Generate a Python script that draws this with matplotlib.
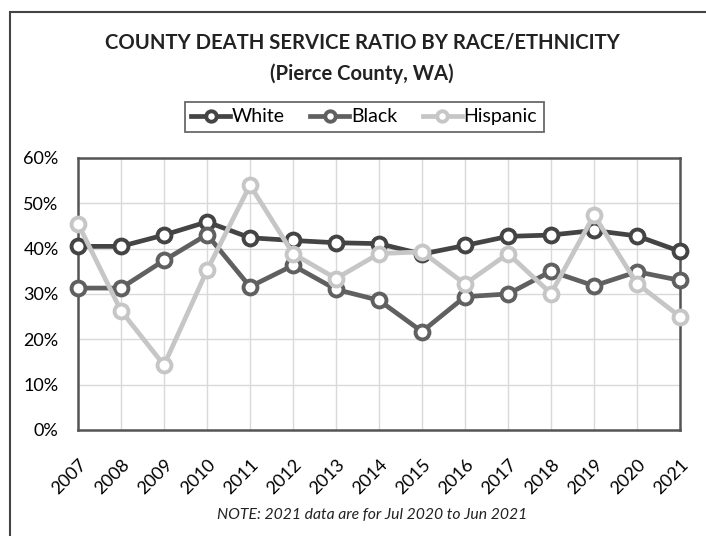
import matplotlib
matplotlib.use("Agg")
import matplotlib.pyplot as plt
from matplotlib.patches import Rectangle

plt.rcParams['font.family'] = ['Lato', 'DejaVu Sans']

years = list(range(2007, 2022))
white = [40.5, 40.5, 43.0, 45.9, 42.4, 41.8, 41.3, 41.1, 38.8, 40.7, 42.7, 43.0, 44.0, 42.8, 39.4]
black = [31.3, 31.3, 37.4, 43.1, 31.6, 36.3, 31.0, 28.6, 21.7, 29.4, 30.0, 35.0, 31.8, 34.9, 33.0]
hispanic = [45.5, 26.3, 14.3, 35.2, 54.0, 38.9, 33.4, 38.9, 39.3, 32.2, 38.9, 30.1, 47.4, 32.3, 25.0]
y_ticks = [0, 10, 20, 30, 40, 50, 60]

fig = plt.figure(figsize=(7.06, 5.36), dpi=100)

# outer chart border
fig.patches.append(Rectangle((0.014, -0.02), 1.0, 0.9976, transform=fig.transFigure,
                             fill=False, edgecolor='#444444', lw=1.5))

ax = fig.add_axes([0.1105, 0.1978, 0.8527, 0.5075])

styles = [
    ('White', white, '#444444'),
    ('Black', black, '#606060'),
    ('Hispanic', hispanic, '#c6c6c6'),
]
handles = []
for name, vals, col in styles:
    h, = ax.plot(years, vals, color=col, lw=3.4, marker='o', ms=10,
                 mfc='white', mec=col, mew=2.8, label=name, clip_on=False, zorder=3)
    handles.append(h)

ax.set_xlim(2007, 2021)
ax.set_ylim(0, 60)
ax.set_xticks(years)
ax.set_xticklabels([str(y) for y in years], rotation=45, ha='right',
                   rotation_mode='anchor', fontsize=13)
ax.set_yticks(y_ticks)
ax.set_yticklabels([f'{t}%' for t in y_ticks], fontsize=13)
ax.tick_params(axis='x', length=0, pad=19)
ax.tick_params(axis='y', length=0, pad=14)
ax.grid(True, color='#d9d9d9', lw=1)
ax.set_axisbelow(True)
for s in ax.spines.values():
    s.set_color('#555555')
    s.set_linewidth(1.8)

fig.text(0.513, 0.92, 'COUNTY DEATH SERVICE RATIO BY RACE/ETHNICITY',
         ha='center', va='center', fontsize=14.6, fontweight='bold', color='#222222')
fig.text(0.513, 0.863, '(Pierce County, WA)',
         ha='center', va='center', fontsize=14.6, fontweight='bold', color='#222222')

leg = fig.legend(handles=handles, loc='center', bbox_to_anchor=(0.516, 0.782),
                 ncol=3, fontsize=14, frameon=True, fancybox=False,
                 handlelength=2.0, handletextpad=0.1, columnspacing=1.3,
                 borderpad=0.35, markerscale=0.75)
leg.get_frame().set_edgecolor('#444444')
leg.get_frame().set_linewidth(1.3)

fig.text(0.527, 0.04, 'NOTE: 2021 data are for Jul 2020 to Jun 2021',
         ha='center', va='center', fontsize=11.3, style='italic', color='#222222')

fig.savefig('out.png', dpi=100)
